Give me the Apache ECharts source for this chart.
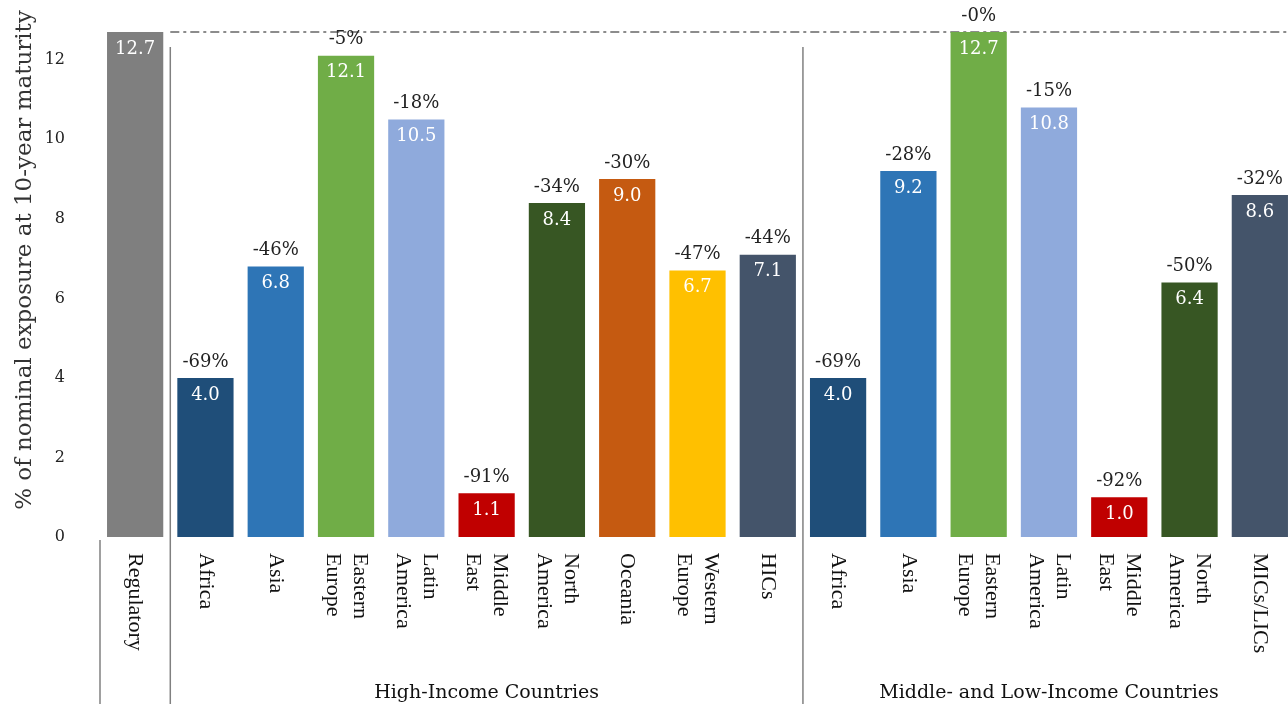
<!DOCTYPE html>
<html>
<head>
<meta charset="utf-8">
<script src="https://cdn.jsdelivr.net/npm/echarts@6/dist/echarts.min.js"></script>
<style>
  html, body { margin: 0; padding: 0; background: #fff; overflow: hidden; }
  #chart { width: 1300px; height: 704px; }
</style>
</head>
<body>
<div id="chart"></div>
<script>
// Categories: one regulatory benchmark, then high-income and middle/low-income regions
const categories = ['Regulatory',
  'Africa', 'Asia', 'Eastern\nEurope', 'Latin\nAmerica', 'Middle\nEast', 'North\nAmerica', 'Oceania', 'Western\nEurope', 'HICs',
  'Africa', 'Asia', 'Eastern\nEurope', 'Latin\nAmerica', 'Middle\nEast', 'North\nAmerica', 'MICs/LICs'];
// Exposure values (% of nominal at 10-year maturity)
const values = [12.7,
  4.0, 6.8, 12.1, 10.5, 1.1, 8.4, 9.0, 6.7, 7.1,
  4.0, 9.2, 12.7, 10.8, 1.0, 6.4, 8.6];
// Change relative to the regulatory level
const changes = ['',
  '-69%', '-46%', '-5%', '-18%', '-91%', '-34%', '-30%', '-47%', '-44%',
  '-69%', '-28%', '-0%', '-15%', '-92%', '-50%', '-32%'];
const regulatoryLevel = 12.7;
const groupNames = ['High-Income Countries', 'Middle- and Low-Income Countries'];
const groupStart = [1, 10];   // first category index of each group
const groupEnd = [9, 16];     // last category index of each group
const yTicks = [0, 2, 4, 6, 8, 10, 12];

const regionColors = {
  'Regulatory': '#7f7f7f',
  'Africa': '#1f4e79',
  'Asia': '#2e75b6',
  'Eastern\nEurope': '#70ad47',
  'Latin\nAmerica': '#8faadc',
  'Middle\nEast': '#c00000',
  'North\nAmerica': '#375623',
  'Oceania': '#c55a11',
  'Western\nEurope': '#ffc000',
  'HICs': '#44546a',
  'MICs/LICs': '#44546a'
};

const serif = "'DejaVu Serif', 'Liberation Serif', serif";
const times = "'Liberation Serif', 'DejaVu Serif', serif";
const sepColor = '#808080';
const visibleWidth = 1288;

const chart = echarts.init(document.getElementById('chart'), null, { renderer: 'canvas' });

chart.setOption({
  animation: false,
  grid: { left: 100, top: 20, right: 5, bottom: 167 },
  xAxis: {
    type: 'category',
    data: categories,
    axisLine: { show: false },
    axisTick: { show: false },
    axisLabel: {
      interval: 0,
      rotate: -90,
      margin: 16,
      fontFamily: times,
      fontSize: 22,
      lineHeight: 27,
      color: '#111'
    }
  },
  yAxis: {
    type: 'value',
    min: 0,
    max: 13,
    interval: 2,
    splitLine: { show: false },
    axisLine: { show: false },
    axisTick: { show: false },
    axisLabel: {
      showMaxLabel: false,
      margin: 35,
      fontFamily: serif,
      fontSize: 16,
      color: '#222',
      formatter: v => (yTicks.includes(v) ? String(v) : '')
    }
  },
  series: [
    {
      type: 'bar',
      barCategoryGap: '20%',
      data: values.map((v, i) => ({ value: v, itemStyle: { color: regionColors[categories[i]] } })),
      label: {
        show: true,
        position: 'insideTop',
        distance: 8,
        color: '#fff',
        fontFamily: serif,
        fontSize: 18,
        formatter: p => p.value.toFixed(1)
      }
    },
    {
      type: 'bar',
      barGap: '-100%',
      barCategoryGap: '20%',
      silent: true,
      itemStyle: { color: 'rgba(0,0,0,0)' },
      data: values,
      label: {
        show: true,
        position: 'top',
        distance: 7,
        color: '#222',
        fontFamily: serif,
        fontSize: 18,
        formatter: p => changes[p.dataIndex]
      }
    }
  ]
});

// Separators, benchmark line, group captions and axis title placed through the axis scales
function px(idx, val) { return chart.convertToPixel({ gridIndex: 0 }, [idx, val]); }
const half = (px(1, 0)[0] - px(0, 0)[0]) / 2;
const baseY = px(0, 0)[1];
const regY = px(0, regulatoryLevel)[1];
const H = 704;

const graphics = [];
// outer left edge of the category band under the axis
graphics.push({ type: 'line', shape: { x1: px(0, 0)[0] - half, y1: baseY + 3, x2: px(0, 0)[0] - half, y2: H },
  style: { stroke: sepColor, lineWidth: 1.5 } });
// boundaries between regulatory / HIC / MIC groups
groupStart.forEach(s => {
  const x = px(s, 0)[0] - half;
  graphics.push({ type: 'line', shape: { x1: x, y1: regY + 15, x2: x, y2: H },
    style: { stroke: sepColor, lineWidth: 1.5 } });
});
// regulatory level reference line
graphics.push({ type: 'line', shape: { x1: px(1, 0)[0] - half, y1: regY, x2: visibleWidth, y2: regY },
  style: { stroke: '#8c8c8c', lineWidth: 2, lineDash: [9, 4, 3, 4] } });
// group captions
groupNames.forEach((name, g) => {
  const x0 = px(groupStart[g], 0)[0] - half;
  const x1 = px(groupEnd[g], 0)[0] + half;
  graphics.push({ type: 'text', x: (x0 + x1) / 2, y: 693,
    style: { text: name, fill: '#111', font: '19px ' + serif, textAlign: 'center', textVerticalAlign: 'middle' } });
});
// y-axis title
graphics.push({ type: 'text', x: 25, y: 260, rotation: Math.PI / 2,
  style: { text: '% of nominal exposure at 10-year maturity', fill: '#333', font: '23px ' + serif,
    textAlign: 'center', textVerticalAlign: 'middle' } });

chart.setOption({ graphic: graphics });
</script>
</body>
</html>
